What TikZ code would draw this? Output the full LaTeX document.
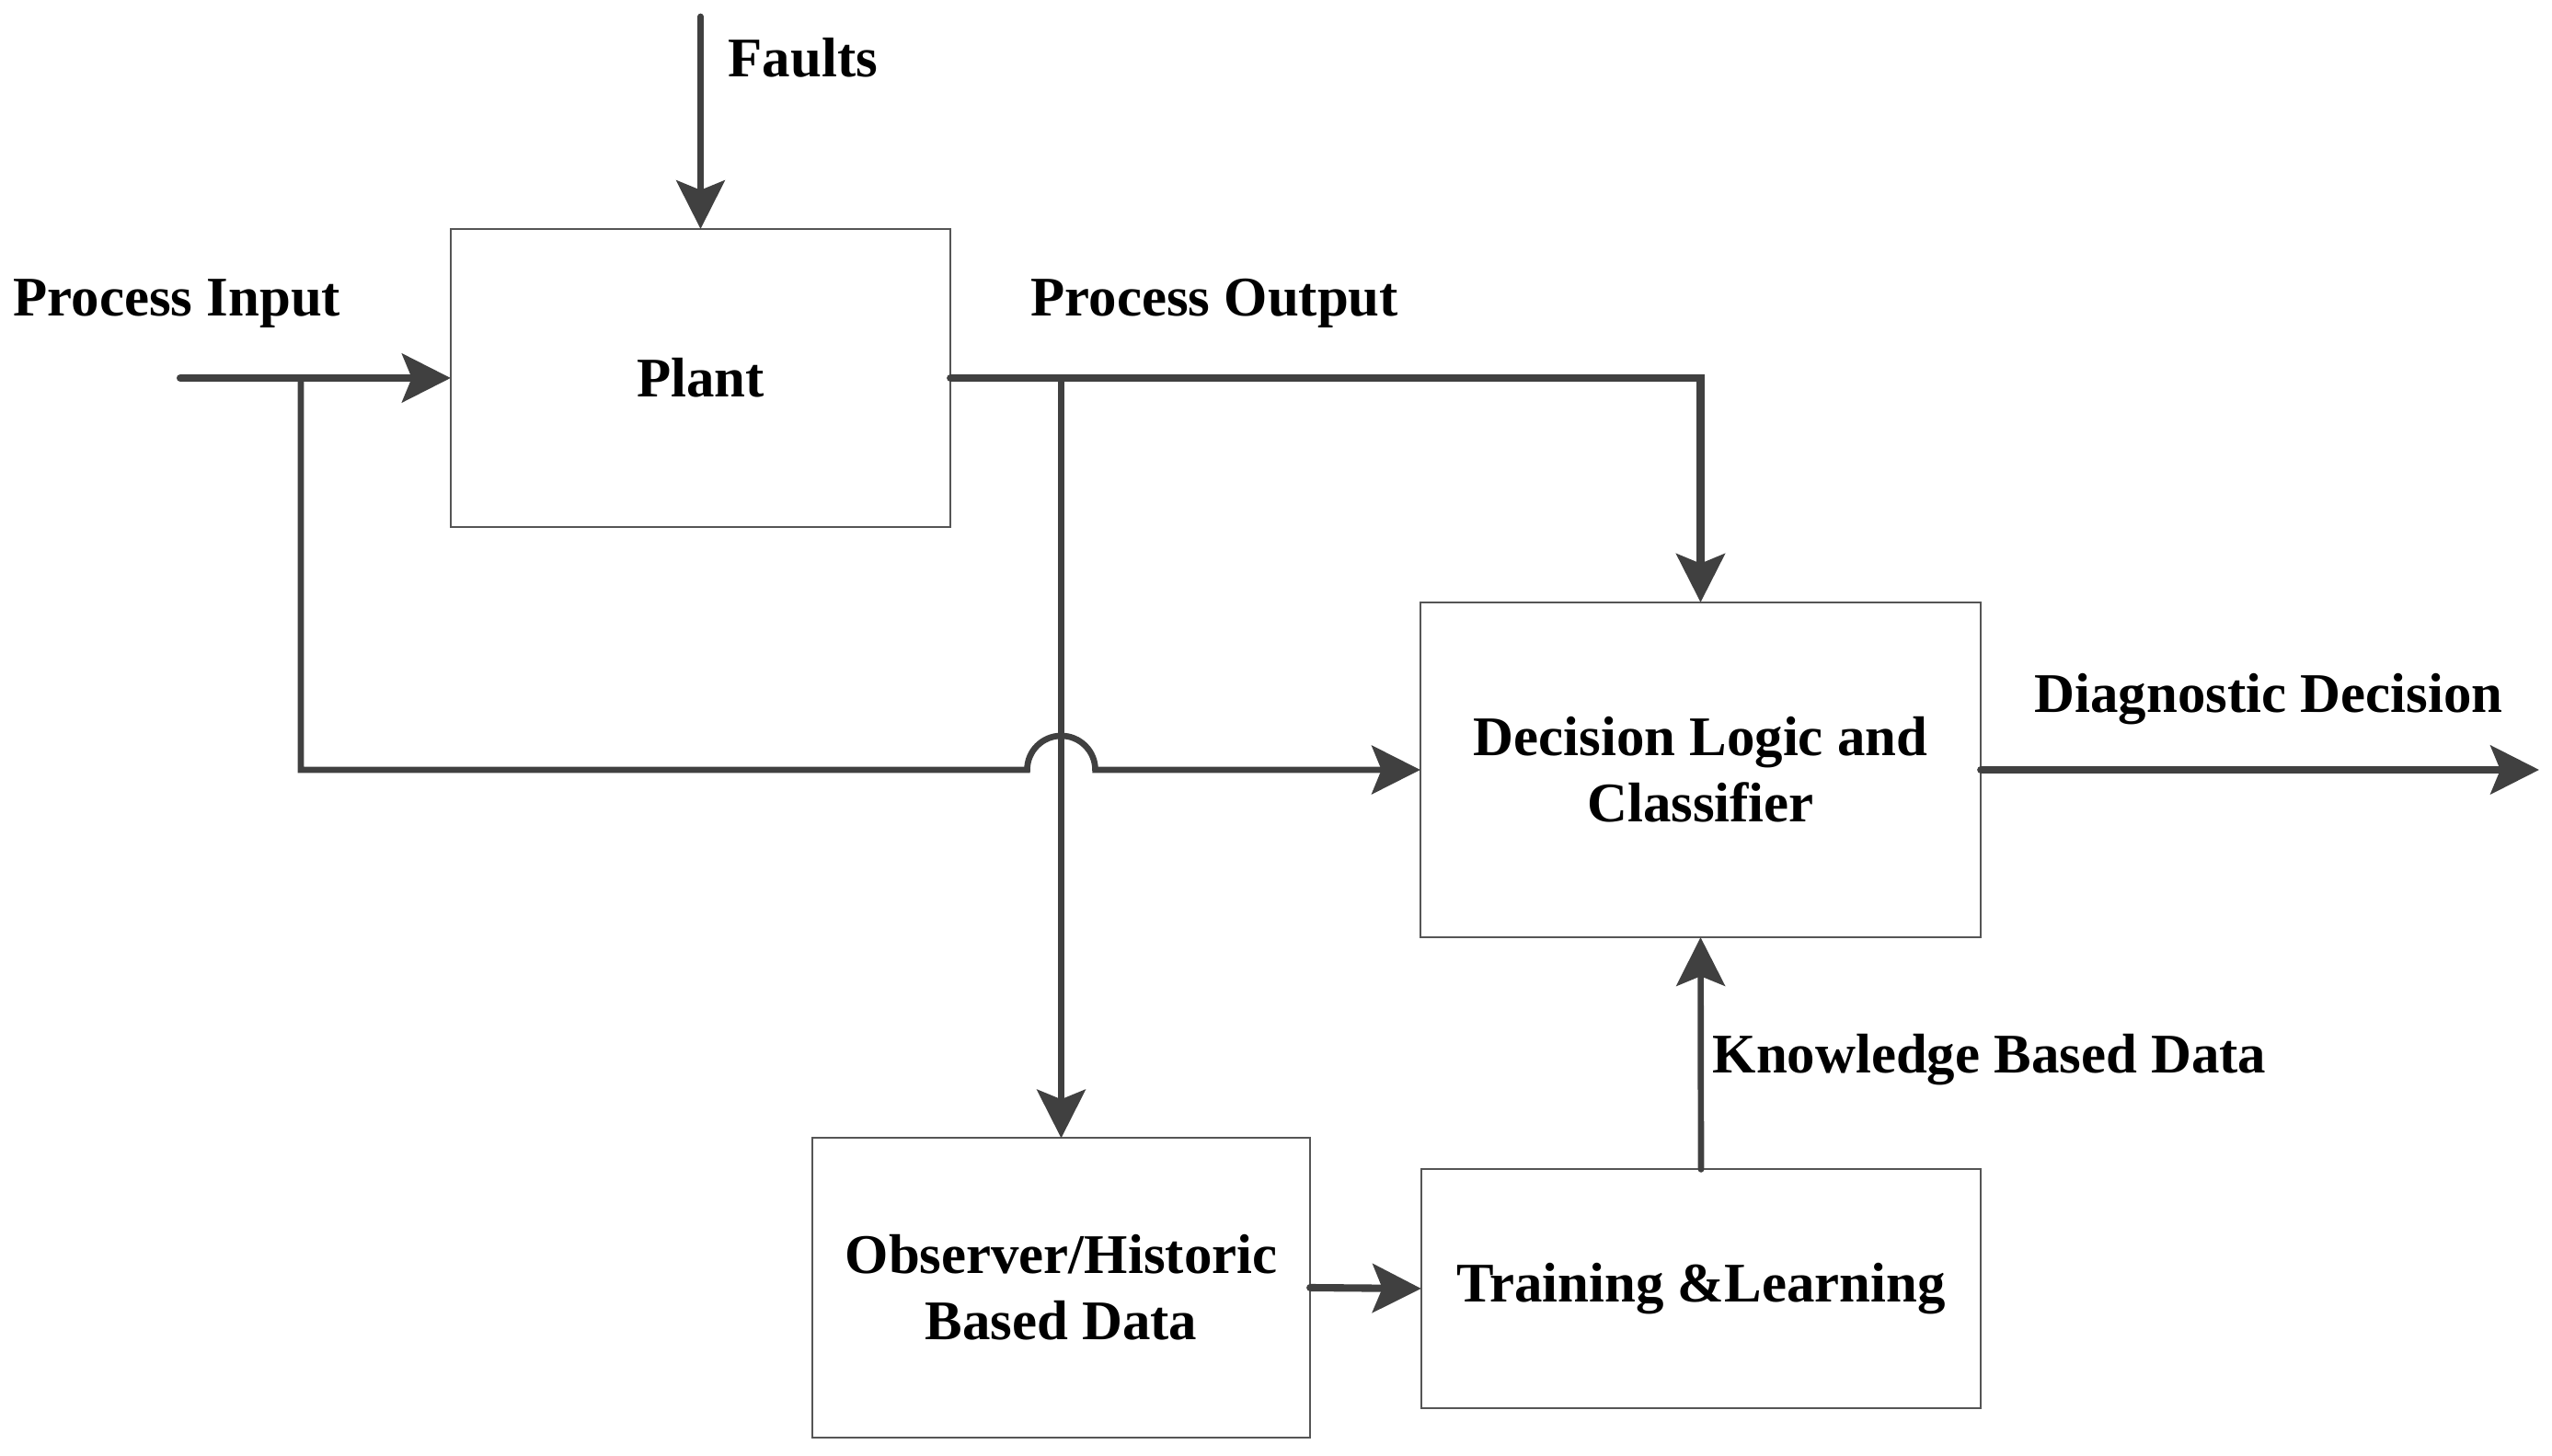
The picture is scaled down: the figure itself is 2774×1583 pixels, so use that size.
\documentclass[tikz,border=0pt]{standalone}
\usepackage{fontspec}
\setmainfont{Liberation Serif}
\usetikzlibrary{arrows.meta}
\definecolor{linec}{HTML}{404040}
\definecolor{boxc}{HTML}{555555}
\begin{document}
\begin{tikzpicture}[x=0.01cm,y=-0.01cm,
  txt/.style={font=\bfseries\fontsize{17.3}{20.5}\selectfont},
  blk/.style={txt,draw=boxc,line width=0.6pt,inner sep=0pt,outer sep=0pt,align=center},
  lbl/.style={txt,inner sep=0pt,anchor=base west},
  conn/.style={draw=linec,line width=1.9pt,line cap=round,-{Stealth[length=15pt,width=15pt,inset=3pt]}},
  connthick/.style={conn,line width=2.3pt}]
\useasboundingbox (0,0) rectangle (2774,1583);
\node[blk,minimum width=5.43cm,minimum height=3.24cm] (plant) at (761.5,411) {Plant};
\node[blk,minimum width=6.09cm,minimum height=3.64cm] (dec) at (1848.5,837) {Decision Logic and\\Classifier};
\node[blk,minimum width=5.41cm,minimum height=3.25cm] (obs) at (1153.5,1400) {Observer/Historic\\Based Data};
\node[blk,minimum width=6.08cm,minimum height=2.59cm] (train) at (1849,1401) {\strut Training \&Learning};
\coordinate (faultsTop) at (761.5,18);
\coordinate (inStart) at (196,411);
\coordinate (brIn) at (327,411);
\coordinate (brInLow) at (327,837);
\coordinate (jumpL) at (1116.5,837);
\coordinate (diagEnd) at (2760,837);
\draw[conn] (faultsTop) -- (plant.north);
\draw[connthick] (inStart) -- (plant.west);
\draw[conn] (brIn) -- (brInLow) -- (jumpL) arc[start angle=180,end angle=0,radius=0.37cm] -- (dec.west);
\draw[connthick] (plant.east) -| (dec.north);
\draw[conn] (obs.north |- plant.east) -- (obs.north);
\draw[connthick] (dec.east) -- (diagEnd);
\draw[connthick] (obs.east) -- (train.west);
\draw[conn] (train.north) -- (dec.south);
\node[lbl] (lfaults) at (791,84) {Faults};
\node[lbl] (lin) at (14,344) {Process Input};
\node[lbl] (lout) at (1120,344) {Process Output};
\node[lbl] (ldiag) at (2211,775) {Diagnostic Decision};
\node[lbl] (lknow) at (1861,1167) {Knowledge Based Data};
\end{tikzpicture}
\end{document}
